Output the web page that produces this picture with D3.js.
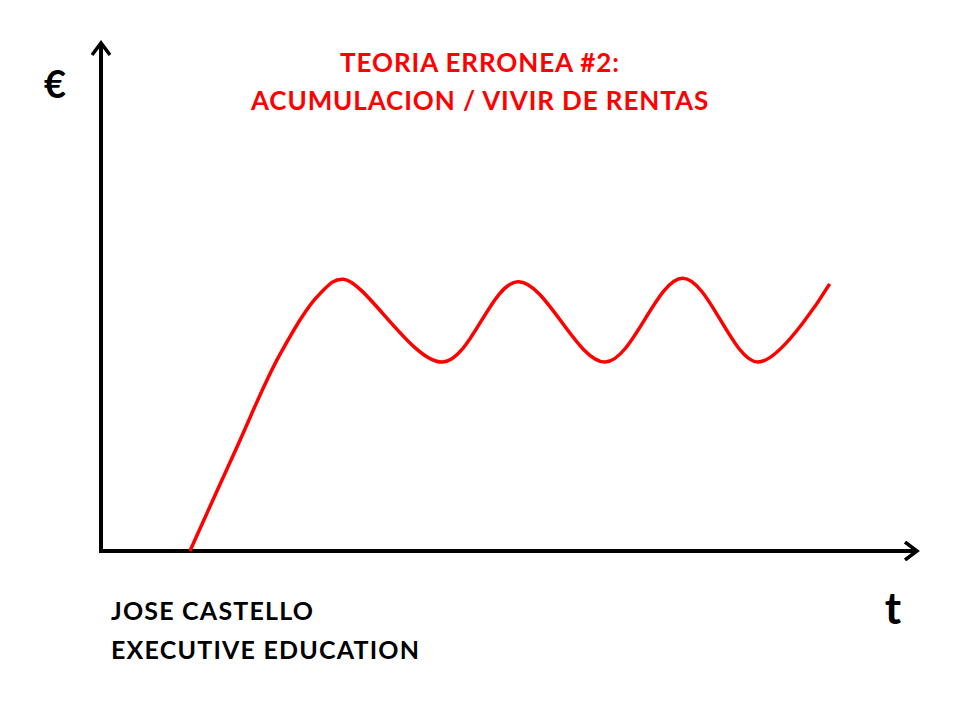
<!DOCTYPE html>
<html>
<head>
<meta charset="utf-8">
<script src="https://cdn.jsdelivr.net/npm/d3@7"></script>
<style>
  html, body { margin: 0; padding: 0; background: #fff; }
  svg { display: block; }
  text { font-family: Lato, "Open Sans", sans-serif; font-weight: bold; }
</style>
</head>
<body>
<svg id="chart" width="960" height="720"></svg>
<script>
// time (0..100) and wealth (0..100)
const tValues = [10.9, 16.5, 21.9, 26.8, 29.7, 41.9, 51.1, 61.8, 71.3, 80.5, 89.3];
const wealth  = [0,    19.9, 38.6, 50.6, 53.5, 37.2, 53.0, 37.2, 53.7, 37.2, 52.6];
const titleLines = ["TEORIA ERRONEA #2:", "ACUMULACION / VIVIR DE RENTAS"];
const footerLines = ["JOSE CASTELLO", "EXECUTIVE EDUCATION"];

const svg = d3.select("#chart");

const x = d3.scaleLinear().domain([0, 100]).range([101, 917]);
const y = d3.scaleLinear().domain([0, 100]).range([551, 43]);

// chevron arrow head
svg.append("defs").append("marker")
  .attr("id", "arrow")
  .attr("viewBox", "0 0 20 20")
  .attr("refX", 17).attr("refY", 10)
  .attr("markerWidth", 20).attr("markerHeight", 20)
  .attr("markerUnits", "userSpaceOnUse")
  .attr("orient", "auto")
  .append("path")
  .attr("d", "M5,1 L17,10 L5,19")
  .attr("fill", "none")
  .attr("stroke", "#000")
  .attr("stroke-width", 3.5)
  .attr("stroke-linejoin", "miter");

// axes
svg.append("line")
  .attr("x1", x(0)).attr("y1", y(0))
  .attr("x2", x(0)).attr("y2", y(100))
  .attr("stroke", "#000").attr("stroke-width", 4)
  .attr("marker-end", "url(#arrow)");

svg.append("line")
  .attr("x1", x(0) - 2).attr("y1", y(0))
  .attr("x2", x(100)).attr("y2", y(0))
  .attr("stroke", "#000").attr("stroke-width", 4)
  .attr("marker-end", "url(#arrow)");

// curve
const line = d3.line()
  .x(d => x(d[0]))
  .y(d => y(d[1]))
  .curve(d3.curveCatmullRom.alpha(0.5));

svg.append("path")
  .datum(d3.zip(tValues, wealth))
  .attr("d", line)
  .attr("fill", "none")
  .attr("stroke", "#ff0000")
  .attr("stroke-width", 3.5);

// labels
svg.append("text")
  .attr("x", 55).attr("y", 98)
  .attr("text-anchor", "middle")
  .attr("font-size", 38)
  .text("€");

svg.append("text")
  .attr("x", 893).attr("y", 624)
  .attr("text-anchor", "middle")
  .attr("font-size", 44)
  .text("t");

svg.selectAll("text.title")
  .data(titleLines).enter()
  .append("text")
  .attr("class", "title")
  .attr("x", 480)
  .attr("y", (d, i) => 72 + i * 38)
  .attr("text-anchor", "middle")
  .attr("font-size", 26)
  .attr("letter-spacing", 0.9)
  .attr("fill", "#ff0000")
  .text(d => d);

svg.selectAll("text.footer")
  .data(footerLines).enter()
  .append("text")
  .attr("class", "footer")
  .attr("x", 111)
  .attr("y", (d, i) => 620 + i * 39)
  .attr("font-size", 25)
  .attr("letter-spacing", 1.2)
  .attr("fill", "#000")
  .text(d => d);
</script>
</body>
</html>
